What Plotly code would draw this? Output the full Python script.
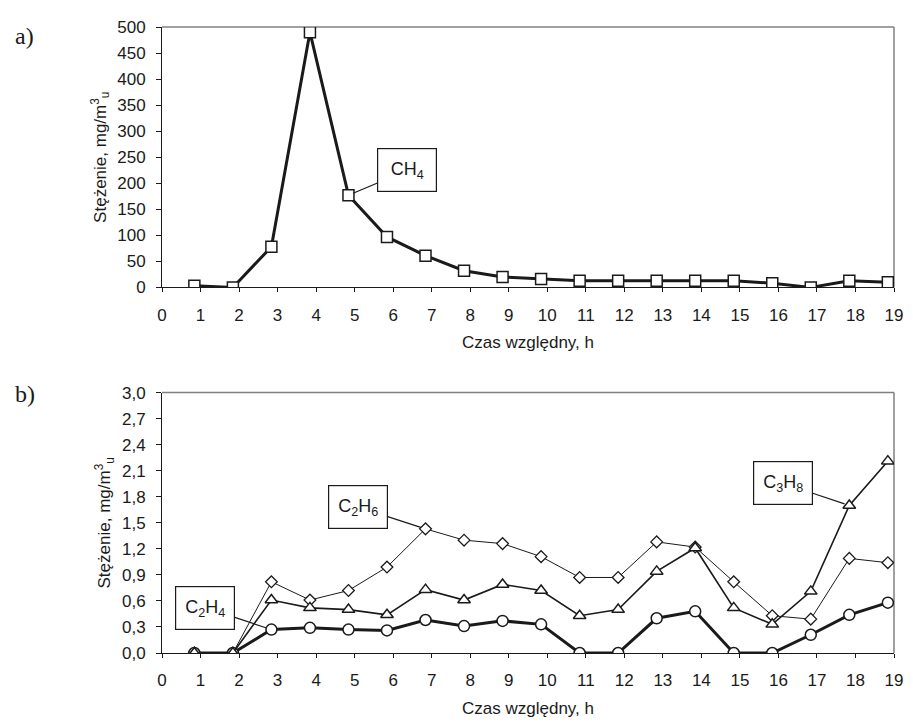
import plotly.graph_objects as go

# ---- data ----
hours = [0.84, 1.84, 2.84, 3.84, 4.84, 5.84, 6.84, 7.84, 8.84, 9.84,
         10.84, 11.84, 12.84, 13.84, 14.84, 15.84, 16.84, 17.84, 18.84]
x_ticks = list(range(0, 20))

ch4 = [3, 0, 78, 490, 177, 97, 61, 32, 20, 16, 13, 13, 13, 13, 13, 8, 0, 13, 10]

c2h4 = [0, 0, 0.27, 0.29, 0.27, 0.26, 0.38, 0.31, 0.37, 0.33,
        0, 0, 0.40, 0.48, 0, 0, 0.21, 0.44, 0.58]
c3h8 = [0, 0, 0.61, 0.52, 0.50, 0.44, 0.73, 0.61, 0.79, 0.72,
        0.43, 0.50, 0.94, 1.21, 0.52, 0.33, 0.71, 1.70, 2.21]
c2h6 = [0, 0, 0.82, 0.61, 0.72, 0.99, 1.43, 1.30, 1.26, 1.11,
        0.87, 0.87, 1.28, 1.22, 0.82, 0.43, 0.39, 1.09, 1.04]

ya_ticks = list(range(0, 501, 50))
yb_ticks = [0.0, 0.3, 0.6, 0.9, 1.2, 1.5, 1.8, 2.1, 2.4, 2.7, 3.0]

FONT = "Liberation Sans, Arial, sans-serif"
BLACK = "#1a1a1a"

fig = go.Figure()

fig.add_trace(go.Scatter(
    x=hours, y=ch4, mode="lines+markers", xaxis="x", yaxis="y",
    line=dict(color=BLACK, width=3),
    marker=dict(symbol="square", size=11, color="white",
                line=dict(color=BLACK, width=1.5)),
    showlegend=False, name="CH4"))

fig.add_trace(go.Scatter(
    x=hours, y=c2h6, mode="lines+markers", xaxis="x2", yaxis="y2",
    line=dict(color=BLACK, width=1),
    marker=dict(symbol="diamond", size=9, color="white",
                line=dict(color=BLACK, width=1.3)),
    showlegend=False, name="C2H6"))

fig.add_trace(go.Scatter(
    x=hours, y=c2h4, mode="lines+markers", xaxis="x2", yaxis="y2",
    line=dict(color=BLACK, width=3),
    marker=dict(symbol="circle", size=11, color="white",
                line=dict(color=BLACK, width=1.5)),
    showlegend=False, name="C2H4"))

fig.add_trace(go.Scatter(
    x=hours, y=c3h8, mode="lines+markers", xaxis="x2", yaxis="y2",
    line=dict(color=BLACK, width=1.6),
    marker=dict(symbol="triangle-up", size=11, color="white",
                line=dict(color=BLACK, width=1.5)),
    showlegend=False, name="C3H8"))

xaxis_common = dict(
    range=[0, 19], tickvals=x_ticks, ticks="outside", ticklen=4,
    tickcolor=BLACK, showline=True, linecolor=BLACK, linewidth=1,
    showgrid=False, zeroline=False, ticklabelstandoff=8,
    tickfont=dict(family=FONT, size=17, color=BLACK),
)
yaxis_common = dict(
    ticks="outside", ticklen=5, tickcolor=BLACK, showline=True,
    linecolor=BLACK, linewidth=1, showgrid=False, zeroline=False,
    tickfont=dict(family=FONT, size=17, color=BLACK), ticklabelstandoff=7,
)
# overlay axes that add the inner half of the crossing x ticks
xinner_common = dict(
    range=[0, 19], tickvals=x_ticks, ticks="inside", ticklen=4,
    tickcolor=BLACK, showline=False, showgrid=False, zeroline=False,
    showticklabels=False,
)

ytitle = "Stężenie, mg/m<sup>3</sup><sub>u</sub>"
xtitle = "Czas względny, h"
TFONT = dict(family=FONT, size=17, color=BLACK)

fig.update_layout(
    width=905, height=716,
    margin=dict(l=154, r=11, t=10, b=69),
    paper_bgcolor="white", plot_bgcolor="white",
    separators=", ",
    font=dict(family=FONT, color=BLACK),
    xaxis=dict(**xaxis_common, anchor="y",
               title=dict(text=xtitle, font=TFONT, standoff=12)),
    yaxis=dict(**yaxis_common, domain=[0.584, 1.0], range=[0, 500],
               tickvals=ya_ticks, anchor="x",
               title=dict(text=ytitle, font=TFONT, standoff=6)),
    xaxis2=dict(**xaxis_common, anchor="y2",
                title=dict(text=xtitle, font=TFONT, standoff=12)),
    yaxis2=dict(**yaxis_common, domain=[0.0, 0.416], range=[0, 3.0],
                tickvals=yb_ticks, tickformat=".1f", anchor="x2",
                title=dict(text=ytitle, font=TFONT, standoff=6)),
    xaxis3=dict(**xinner_common, anchor="y", overlaying="x"),
    xaxis4=dict(**xinner_common, anchor="y2", overlaying="x2"),
)

# gray top / right frame lines
for xr, yr in (("x domain", "y domain"), ("x2 domain", "y2 domain")):
    fig.add_shape(type="line", xref=xr, yref=yr, x0=0, x1=1, y0=1, y1=1,
                  line=dict(color="#808080", width=1.5), layer="below")
    fig.add_shape(type="line", xref=xr, yref=yr, x0=1, x1=1, y0=0, y1=1,
                  line=dict(color="#808080", width=1.5), layer="below")

# panel labels
SERIF = dict(family="Liberation Serif, Times New Roman, serif", size=24, color=BLACK)
fig.add_annotation(text="a)", xref="paper", yref="paper", x=-154/740, y=1.0,
                   xanchor="left", yanchor="top", showarrow=False, yshift=6, xshift=3,
                   font=SERIF)
fig.add_annotation(text="b)", xref="paper", yref="paper", x=-154/740, y=0.416,
                   xanchor="left", yanchor="top", showarrow=False, yshift=14, xshift=3,
                   font=SERIF)

# callout boxes
def callout(label, xref, yref, xv, yv, ax, ay):
    fig.add_annotation(
        text=label, xref=xref, yref=yref, x=xv, y=yv, ax=ax, ay=ay,
        showarrow=True, arrowhead=0, arrowwidth=1.2, arrowcolor=BLACK, standoff=5,
        bordercolor=BLACK, borderwidth=1.2, borderpad=4, bgcolor="white",
        width=50, height=34,
        font=dict(family=FONT, size=18, color=BLACK))

callout("CH<sub>4</sub>", "x", "y", hours[4], ch4[4], 59, -25)
callout("C<sub>2</sub>H<sub>6</sub>", "x2", "y2", hours[6], c2h6[6], -68, -22)
callout("C<sub>2</sub>H<sub>4</sub>", "x2", "y2", hours[2], c2h4[2], -66, -22)
callout("C<sub>3</sub>H<sub>8</sub>", "x2", "y2", hours[17], c3h8[17], -66, -22)

fig.write_html("out.html")
